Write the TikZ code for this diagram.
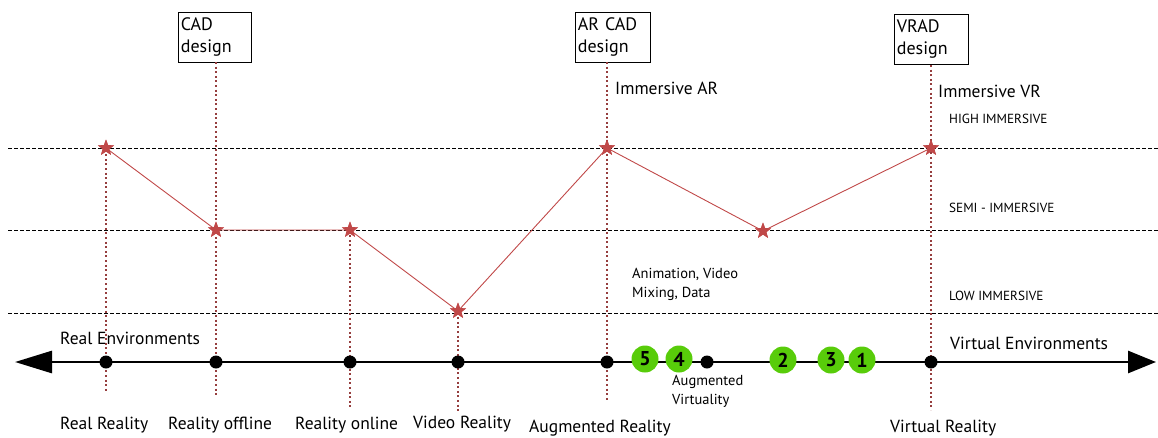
\documentclass[tikz,border=0pt]{standalone}
\usepackage{fontspec}
\setmainfont{PT Sans}
\usetikzlibrary{shapes.geometric,arrows.meta}
\definecolor{vline}{RGB}{150,62,62}
\definecolor{starred}{RGB}{192,72,72}
\definecolor{lime}{RGB}{88,204,10}
\begin{document}
\begin{tikzpicture}[x=1pt,y=-1pt,
  level/.style={draw=black,line width=0.6pt,dash pattern=on 3.5pt off 2.5pt},
  vdot/.style={draw=vline,line width=2pt,dash pattern=on 2pt off 2.6pt},
  strnode/.style={star,star points=5,star point ratio=2.4,fill=starred,inner sep=0pt,minimum size=17pt},
  axisdot/.style={circle,fill=black,inner sep=0pt,minimum size=13pt},
  numc/.style={circle,fill=lime,inner sep=0pt,minimum size=27pt,font=\fontsize{20}{20}\selectfont\bfseries},
  dbox/.style={draw=black,line width=0.8pt,align=left,inner sep=2.5pt,font=\fontsize{18}{22}\selectfont,text width=68pt,minimum height=50pt},
  lbl/.style={font=\fontsize{17.5}{20}\selectfont,inner sep=0pt},
  small/.style={font=\fontsize{14.5}{19}\selectfont,inner sep=0pt,align=left},
  lvl/.style={font=\fontsize{13.2}{14}\selectfont,inner sep=0pt,anchor=west}
]
\useasboundingbox (0,0) rectangle (1158,437);
% levels
\coordinate (h1l) at (8,148); \coordinate (h1r) at (1158,148);
\coordinate (h2l) at (8,230); \coordinate (h2r) at (1158,230);
\coordinate (h3l) at (8,313); \coordinate (h3r) at (1158,313);
\draw[level] (h1l) -- (h1r);
\draw[level] (h2l) -- (h2r);
\draw[level] (h3l) -- (h3r);
% boxes
\node[dbox,anchor=north west,text width=68pt] (cad) at (178,12) {CAD\\design};
\node[dbox,anchor=north west,text width=70pt] (arcad) at (575,12) {AR CAD\\design};
\node[dbox,anchor=north west,text width=69pt] (vrad) at (894,14) {VRAD\\design};
% vertical dotted lines
\coordinate (v1t) at (106,145); \coordinate (v1b) at (106,392);
\coordinate (v2t) at (216,62); \coordinate (v2b) at (216,395);
\coordinate (v3t) at (350,226); \coordinate (v3b) at (350,408);
\coordinate (v4t) at (458,308); \coordinate (v4b) at (458,412);
\coordinate (v5t) at (607,62); \coordinate (v5b) at (607,400);
\coordinate (v6t) at (931,65); \coordinate (v6b) at (931,410);
\draw[vdot] (v1t) -- (v1b);
\draw[vdot] (v2t) -- (v2b);
\draw[vdot] (v3t) -- (v3b);
\draw[vdot] (v4t) -- (v4b);
\draw[vdot] (v5t) -- (v5b);
\draw[vdot] (v6t) -- (v6b);
% stars
\node[strnode] (s1) at (106,148) {};
\node[strnode] (s2) at (216,230) {};
\node[strnode] (s3) at (350,230) {};
\node[strnode] (s4) at (458,311) {};
\node[strnode] (s5) at (607,148) {};
\node[strnode] (s6) at (763,231) {};
\node[strnode] (s7) at (931,148) {};
\draw[starred,line width=0.9pt] (s1.center) -- (s2.center) -- (s3.center) -- (s4.center) -- (s5.center) -- (s6.center) -- (s7.center);
\foreach \s in {s1,s2,s3,s4,s5,s6,s7} \node[strnode] at (\s) {};
% axis
\coordinate (axl) at (15,362); \coordinate (axr) at (1156,362);
\draw[line width=2.8pt,{Triangle[length=37pt,width=22pt]}-{Triangle[length=28pt,width=22pt]}] (axl) -- (axr);
\foreach \n/\x in {d1/106,d2/216,d3/350,d4/458,d5/607,d6/707,d7/931}
  \node[axisdot] (\n) at (\x,362) {};
\node[numc] (c5) at (645,359) {5};
\node[numc] (c4) at (679,359) {4};
\node[numc] (c2) at (783,360) {2};
\node[numc] (c3) at (831,360) {3};
\node[numc] (c1) at (862,360) {1};
% labels
\node[lbl,anchor=west] (re) at (60,338) {Real Environments};
\node[lbl,anchor=west] (ve) at (950,343) {Virtual Environments};
\node[lbl,anchor=west] (iar) at (615,88) {Immersive AR};
\node[lbl,anchor=west] (ivr) at (938,91) {Immersive VR};
\node[lvl] (hi) at (949,119) {HIGH IMMERSIVE};
\node[lvl] (semi) at (949,208) {SEMI - IMMERSIVE};
\node[lvl] (low) at (949,296) {LOW IMMERSIVE};
\node[small,anchor=north west] (anim) at (632,268) {Animation, Video\\Mixing, Data};
\node[small,anchor=north west] (av) at (672,375) {Augmented\\Virtuality};
\node[lbl,anchor=west] (rr) at (60,425) {Real Reality};
\node[lbl,anchor=west] (rof) at (168,425) {Reality offline};
\node[lbl,anchor=west] (ron) at (295,425) {Reality online};
\node[lbl,anchor=west] (vr) at (413,424) {Video Reality};
\node[lbl,anchor=west] (ar) at (529,428) {Augmented Reality};
\node[lbl,anchor=west] (vir) at (890,428) {Virtual Reality};
\end{tikzpicture}
\end{document}
